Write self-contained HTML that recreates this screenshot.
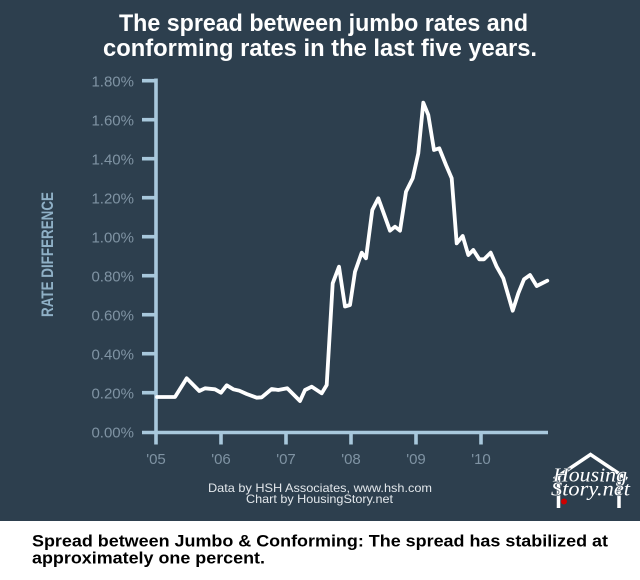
<!DOCTYPE html>
<html><head><meta charset="utf-8"><style>
html,body{margin:0;padding:0;background:#fff;}
svg{display:block;}
</style></head><body>
<svg width="640" height="580" viewBox="0 0 640 580" xmlns="http://www.w3.org/2000/svg">
<rect x="0" y="0" width="640" height="521" fill="#2d3f4e"/>
<rect x="0" y="521" width="640" height="59" fill="#ffffff"/>
<g font-family="Liberation Sans, Arial, sans-serif" font-weight="bold" fill="#ffffff" font-size="24">
<text x="119" y="31" textLength="409" lengthAdjust="spacingAndGlyphs">The spread between jumbo rates and</text>
<text x="103" y="56" textLength="434" lengthAdjust="spacingAndGlyphs">conforming rates in the last five years.</text>
</g>
<text transform="translate(53,317) rotate(-90)" font-family="Liberation Sans, Arial, sans-serif" font-weight="bold" font-size="17" fill="#8fb0c6" textLength="125" lengthAdjust="spacingAndGlyphs">RATE DIFFERENCE</text>
<g font-family="Liberation Sans, Arial, sans-serif" font-size="15" fill="#7f93a3" text-anchor="end">
<text x="134" y="86.7">1.80%</text>
<text x="134" y="125.7">1.60%</text>
<text x="134" y="164.7">1.40%</text>
<text x="134" y="203.7">1.20%</text>
<text x="134" y="242.7">1.00%</text>
<text x="134" y="281.7">0.80%</text>
<text x="134" y="320.7">0.60%</text>
<text x="134" y="359.7">0.40%</text>
<text x="134" y="398.7">0.20%</text>
<text x="134" y="437.7">0.00%</text>
</g>
<g stroke="#a8c8dc" stroke-width="3.6" fill="none">
<line x1="156" y1="78.5" x2="156" y2="444.5"/>
<line x1="142" y1="432.5" x2="548" y2="432.5"/>
<line x1="142" y1="80.7" x2="156" y2="80.7"/>
<line x1="142" y1="119.7" x2="156" y2="119.7"/>
<line x1="142" y1="158.7" x2="156" y2="158.7"/>
<line x1="142" y1="197.7" x2="156" y2="197.7"/>
<line x1="142" y1="236.7" x2="156" y2="236.7"/>
<line x1="142" y1="275.7" x2="156" y2="275.7"/>
<line x1="142" y1="314.7" x2="156" y2="314.7"/>
<line x1="142" y1="353.7" x2="156" y2="353.7"/>
<line x1="142" y1="392.7" x2="156" y2="392.7"/>
<line x1="221" y1="432" x2="221" y2="444.5"/>
<line x1="286" y1="432" x2="286" y2="444.5"/>
<line x1="351" y1="432" x2="351" y2="444.5"/>
<line x1="416" y1="432" x2="416" y2="444.5"/>
<line x1="481" y1="432" x2="481" y2="444.5"/>
</g>
<g font-family="Liberation Sans, Arial, sans-serif" font-size="15" fill="#7f93a3" text-anchor="middle">
<text x="156" y="464">'05</text>
<text x="221" y="464">'06</text>
<text x="286" y="464">'07</text>
<text x="351" y="464">'08</text>
<text x="416" y="464">'09</text>
<text x="481" y="464">'10</text>
</g>
<polyline fill="none" stroke="#ffffff" stroke-width="3.8" stroke-linejoin="round" stroke-linecap="round" points="157,397 175,397 186.7,378.3 199.3,391 205,388.3 215,389.3 221,392.7 226.7,385.3 233.3,389.3 239.3,390.7 246.7,394 256.7,397.7 261.7,397.3 271.7,389 278.3,390 287.3,388.3 300,401 305,390 311.7,386.7 321.7,393.3 326.7,385 332.7,283.3 339,266.7 345,306.5 350,305 355,271.7 361.7,252.7 366,258.3 372.3,210 378.3,198.3 390,230.7 395,226.7 400,230.7 406,191.7 412.7,178.3 418.3,153.3 423.3,102.7 428.3,115 434,150 439.3,148.3 446,165 451.7,178.3 456.7,243.3 462.7,236 468.3,255 473.3,250 479.3,259.3 484,259.3 490.7,252.7 496.7,266.7 503.3,278.3 512.7,310.7 518.3,293.3 524,279.3 530,275 536.7,286 547.3,280.7"/>
<g font-family="Liberation Sans, Arial, sans-serif" font-size="12" fill="#e2e7eb">
<text x="208" y="492" textLength="224" lengthAdjust="spacingAndGlyphs">Data by HSH Associates, www.hsh.com</text>
<text x="246" y="503" textLength="147" lengthAdjust="spacingAndGlyphs">Chart by HousingStory.net</text>
</g>
<g stroke="#ffffff" stroke-width="3.5" fill="none" stroke-linejoin="miter">
<polyline points="554,479 590.5,454.5 627,479"/>
<line x1="558.5" y1="476" x2="558.5" y2="508"/>
<line x1="619" y1="476" x2="619" y2="508"/>
</g>
<g font-family="Liberation Serif, serif" font-style="italic" font-size="20" fill="#ffffff" stroke="#2d3f4e" stroke-width="1.2" paint-order="stroke">
<text x="553" y="481.5" textLength="74" lengthAdjust="spacingAndGlyphs">Housing</text>
<text x="551" y="495.5" textLength="79" lengthAdjust="spacingAndGlyphs">Story.net</text>
</g>
<circle cx="564" cy="501.5" r="3" fill="#cc0000"/>
<g font-family="Liberation Sans, Arial, sans-serif" font-weight="bold" font-size="17" fill="#000000">
<text x="32" y="546.7" textLength="576" lengthAdjust="spacingAndGlyphs">Spread between Jumbo &amp; Conforming: The spread has stabilized at</text>
<text x="32" y="563.3" textLength="233" lengthAdjust="spacingAndGlyphs">approximately one percent.</text>
</g>
</svg>
</body></html>
